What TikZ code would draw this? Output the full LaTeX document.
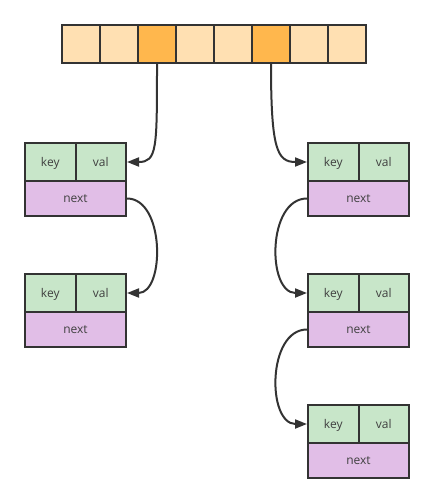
\documentclass[tikz,border=0pt]{standalone}
\usepackage{fontspec}
\setmainfont{Open Sans}
\usetikzlibrary{arrows.meta}
\definecolor{lineC}{HTML}{333333}
\definecolor{cellL}{HTML}{FFE0B2}
\definecolor{cellD}{HTML}{FFB74D}
\definecolor{kvC}{HTML}{C8E6C9}
\definecolor{nxC}{HTML}{E1BEE7}
\definecolor{txtC}{HTML}{404040}
\tikzset{
  base/.style={draw=lineC, line width=2pt, inner sep=0pt, font=\fontsize{12}{14}\selectfont, text=txtC, text height=8.5pt, text depth=0pt},
  arr/.style={base, minimum width=38pt, minimum height=38pt},
  kcell/.style={base, fill=kvC, minimum width=50.5pt, minimum height=38pt},
  ncell/.style={base, fill=nxC, minimum width=101pt, minimum height=35pt},
  link/.style={draw=lineC, line width=2pt, -{Triangle[length=12pt,width=9pt]}},
}
\newcommand{\hnode}[3]{%
  \node[kcell] (#1k) at (#2+25.25,#3) {key};
  \node[kcell] (#1v) at (#2+75.75,#3) {val};
  \node[ncell] (#1n) at (#2+50.5,#3+36.5) {next};
}
\begin{document}
\begin{tikzpicture}[x=1pt,y=-1pt]
\useasboundingbox (0,0) rectangle (434,503);
\foreach \i in {1,...,8}{
  \ifnum\i=3 \def\fc{cellD}\else\ifnum\i=6 \def\fc{cellD}\else\def\fc{cellL}\fi\fi
  \node[arr, fill=\fc] (c\i) at ({81+38*(\i-1)},44) {};
}
\hnode{la}{25}{162}
\hnode{lb}{25}{293}
\hnode{ra}{308}{162}
\hnode{rb}{308}{293}
\hnode{rc}{308}{424}
\draw[link] (c3.south) .. controls +(0,85) and +(30,0) .. (lav.east);
\draw[link] (c6.south) .. controls +(0,85) and +(-30,0) .. (rak.west);
\draw[link] (lan.east) .. controls +(38,0) and +(38,0) .. (lbv.east);
\draw[link] (ran.west) .. controls +(-40,0) and +(-40,0) .. (rbk.west);
\draw[link] (rbn.west) .. controls +(-40,0) and +(-40,0) .. (rck.west);
\end{tikzpicture}
\end{document}
